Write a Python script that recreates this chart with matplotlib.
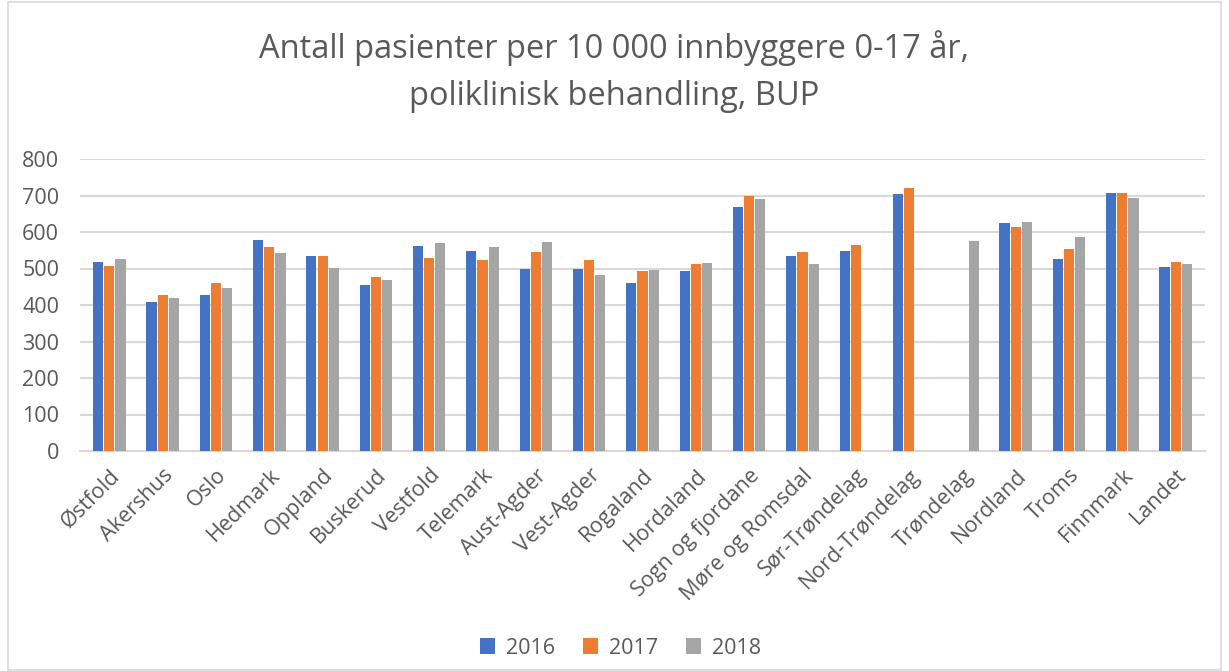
import numpy as np
import matplotlib.pyplot as plt
from matplotlib.patches import Rectangle

plt.rcParams['font.family'] = ['Open Sans', 'DejaVu Sans']

regions = ['Østfold', 'Akershus', 'Oslo', 'Hedmark', 'Oppland', 'Buskerud',
           'Vestfold', 'Telemark', 'Aust-Agder', 'Vest-Agder', 'Rogaland',
           'Hordaland', 'Sogn og fjordane', 'Møre og Romsdal', 'Sør-Trøndelag',
           'Nord-Trøndelag', 'Trøndelag', 'Nordland', 'Troms', 'Finnmark', 'Landet']
years = ['2016', '2017', '2018']
nan = np.nan
v2016 = [518, 408, 427, 578, 534, 455, 562, 548, 499, 499, 460, 493, 668, 534,
         548, 704, nan, 625, 526, 707, 504]
v2017 = [507, 427, 460, 559, 534, 477, 529, 523, 545, 523, 493, 512, 699, 545,
         564, 721, nan, 614, 553, 707, 518]
v2018 = [526, 419, 447, 542, 501, 468, 570, 559, 573, 482, 496, 515, 690, 512,
         nan, nan, 575, 627, 586, 693, 512]
colors = ['#4472c4', '#ed7d31', '#a5a5a5']

fig = plt.figure(figsize=(12.29, 6.71), dpi=100)
ax = fig.add_axes([80 / 1229, 1 - 451 / 671, 1125 / 1229, 292 / 671])

x = np.arange(len(regions))
w = 0.19
for i, (vals, c, lab) in enumerate(zip([v2016, v2017, v2018], colors, years)):
    ax.bar(x + (i - 1) * 0.21, vals, width=w, color=c, label=lab, zorder=3)

ax.set_xlim(-0.55, len(regions) - 0.45)
ax.set_ylim(0, 800)
ax.set_yticks(range(0, 801, 100))
ax.grid(axis='y', color='#d9d9d9', linewidth=1.5, zorder=0)
for s in ['top', 'right', 'left']:
    ax.spines[s].set_visible(False)
ax.spines['bottom'].set_color('#d9d9d9')
ax.spines['bottom'].set_linewidth(1.5)
ax.tick_params(axis='both', length=0, labelsize=15.5, colors='#595959')
ax.tick_params(axis='y', pad=15)
ax.tick_params(axis='x', pad=10)
ax.set_xticks(x)
ax.set_xticklabels(regions, rotation=45, ha='right', rotation_mode='anchor')

fig.text(0.5, 0.955, 'Antall pasienter per 10 000 innbyggere 0-17 år,\npoliklinisk behandling, BUP',
         ha='center', va='top', fontsize=23.5, color='#595959', linespacing=1.55)

fig.legend(loc='center', bbox_to_anchor=(0.505, 1 - 648 / 671), ncol=3, frameon=False,
           fontsize=15.5, handlelength=0.7, handleheight=0.7, handletextpad=0.5,
           columnspacing=1.3, labelcolor='#595959')

fig.patches.append(Rectangle((8 / 1229, 0.002), 1 - 16 / 1229, 0.995, transform=fig.transFigure,
                             fill=False, edgecolor='#d9d9d9', linewidth=1.2))

fig.savefig('out.png', dpi=100)
